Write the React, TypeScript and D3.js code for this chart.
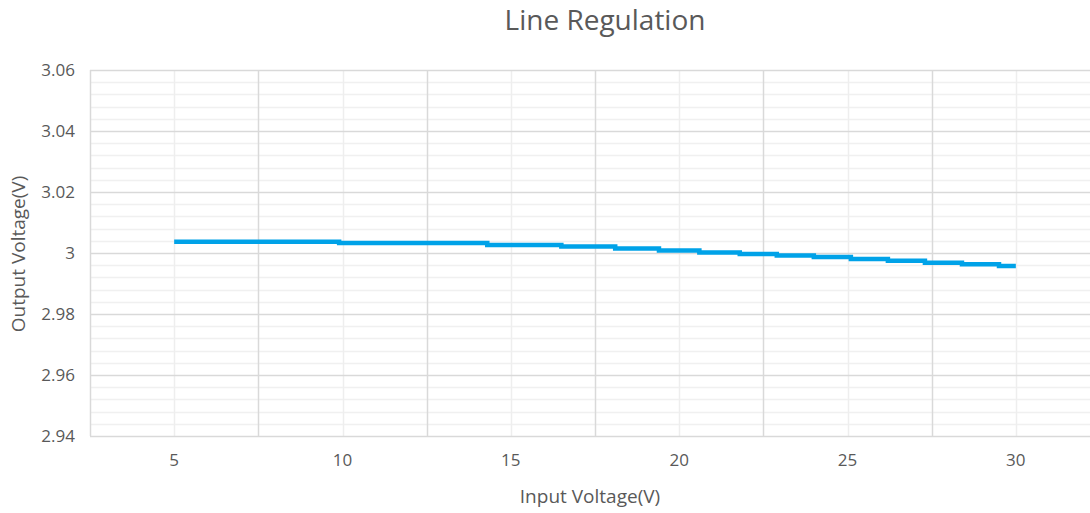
import * as d3 from "d3";
import { useEffect, useRef } from "react";

// step points (input V where the reading changes, output V)
const inputV = [5, 9.9, 14.3, 16.5, 18.1, 19.4, 20.6, 21.8, 22.9, 24.0, 25.1, 26.2, 27.3, 28.4, 29.5, 30];
const outputV = [3.0037, 3.0033, 3.0026, 3.0021, 3.0015, 3.0008, 3.0002, 2.9997, 2.9992, 2.9987, 2.998, 2.9975, 2.9968, 2.9963, 2.9957, 2.9957];

const xTicks = [5, 10, 15, 20, 25, 30];
const xMajorGrid = [7.5, 12.5, 17.5, 22.5, 27.5];
const yTicks = [2.94, 2.96, 2.98, 3, 3.02, 3.04, 3.06];

const W = 1090;
const H = 513;
const FONT = "'Open Sans', sans-serif";
const TEXT = "#595959";

export default function App() {
  const ref = useRef<SVGSVGElement>(null);

  useEffect(() => {
    if (!ref.current) return;
    const svg = d3.select(ref.current);
    svg.selectAll("*").remove();

    const x = d3.scaleLinear().domain([2.5, 32.5]).range([90, 1100]);
    const y = d3.scaleLinear().domain([2.94, 3.06]).range([436, 70]);

    const g = svg.append("g");

    // minor horizontal grid
    const minor = d3.range(2.94, 3.0601, 0.004).filter(v => !yTicks.some(t => Math.abs(t - v) < 1e-6));
    g.selectAll(".ymin")
      .data(minor)
      .enter()
      .append("line")
      .attr("x1", x(2.5))
      .attr("x2", W)
      .attr("y1", d => Math.round(y(d)) + 0.5)
      .attr("y2", d => Math.round(y(d)) + 0.5)
      .attr("stroke", "#f0f0f0")
      .attr("stroke-width", 1.5);

    // light vertical lines at the tick values
    g.selectAll(".xmin")
      .data(xTicks)
      .enter()
      .append("line")
      .attr("x1", d => Math.round(x(d)) + 0.5)
      .attr("x2", d => Math.round(x(d)) + 0.5)
      .attr("y1", y(3.06))
      .attr("y2", y(2.94))
      .attr("stroke", "#eeeeee")
      .attr("stroke-width", 1.5);

    // darker vertical lines
    g.selectAll(".xmaj")
      .data([2.5, ...xMajorGrid])
      .enter()
      .append("line")
      .attr("x1", d => Math.round(x(d)) + 0.5)
      .attr("x2", d => Math.round(x(d)) + 0.5)
      .attr("y1", y(3.06))
      .attr("y2", y(2.94))
      .attr("stroke", "#d9d9d9")
      .attr("stroke-width", 1.5);

    // major horizontal grid
    g.selectAll(".ymaj")
      .data(yTicks)
      .enter()
      .append("line")
      .attr("x1", x(2.5))
      .attr("x2", W)
      .attr("y1", d => Math.round(y(d)) + 0.5)
      .attr("y2", d => Math.round(y(d)) + 0.5)
      .attr("stroke", "#d9d9d9")
      .attr("stroke-width", 1.5);

    // the series
    const line = d3.line<number>()
      .x((_, i) => x(inputV[i]))
      .y(d => y(d))
      .curve(d3.curveStepAfter);

    g.append("path")
      .datum(outputV)
      .attr("fill", "none")
      .attr("stroke", "#00a2e8")
      .attr("stroke-width", 4.5)
      .attr("d", line);

    // y tick labels
    g.selectAll(".ylab")
      .data(yTicks)
      .enter()
      .append("text")
      .attr("x", 75)
      .attr("y", d => y(d))
      .attr("dy", "0.35em")
      .attr("text-anchor", "end")
      .attr("font-family", FONT)
      .attr("font-size", 17)
      .attr("fill", TEXT)
      .text(d => d3.format("")(+d.toFixed(2)));

    // x tick labels
    g.selectAll(".xlab")
      .data(xTicks)
      .enter()
      .append("text")
      .attr("x", d => x(d))
      .attr("y", 466)
      .attr("text-anchor", "middle")
      .attr("font-family", FONT)
      .attr("font-size", 17)
      .attr("fill", TEXT)
      .text(d => d);

    // titles
    svg.append("text")
      .attr("x", 605)
      .attr("y", 30)
      .attr("text-anchor", "middle")
      .attr("font-family", FONT)
      .attr("font-size", 28)
      .attr("fill", TEXT)
      .text("Line Regulation");

    svg.append("text")
      .attr("x", 590)
      .attr("y", 503)
      .attr("text-anchor", "middle")
      .attr("font-family", FONT)
      .attr("font-size", 19)
      .attr("fill", TEXT)
      .text("Input Voltage(V)");

    svg.append("text")
      .attr("transform", `translate(25,254) rotate(-90)`)
      .attr("text-anchor", "middle")
      .attr("font-family", FONT)
      .attr("font-size", 19)
      .attr("fill", TEXT)
      .text("Output Voltage(V)");
  }, []);

  return (
    <div style={{ position: "fixed", left: 0, top: 0, width: W, height: H, background: "#fff" }}>
      <svg ref={ref} width={W} height={H} style={{ display: "block" }} />
    </div>
  );
}
